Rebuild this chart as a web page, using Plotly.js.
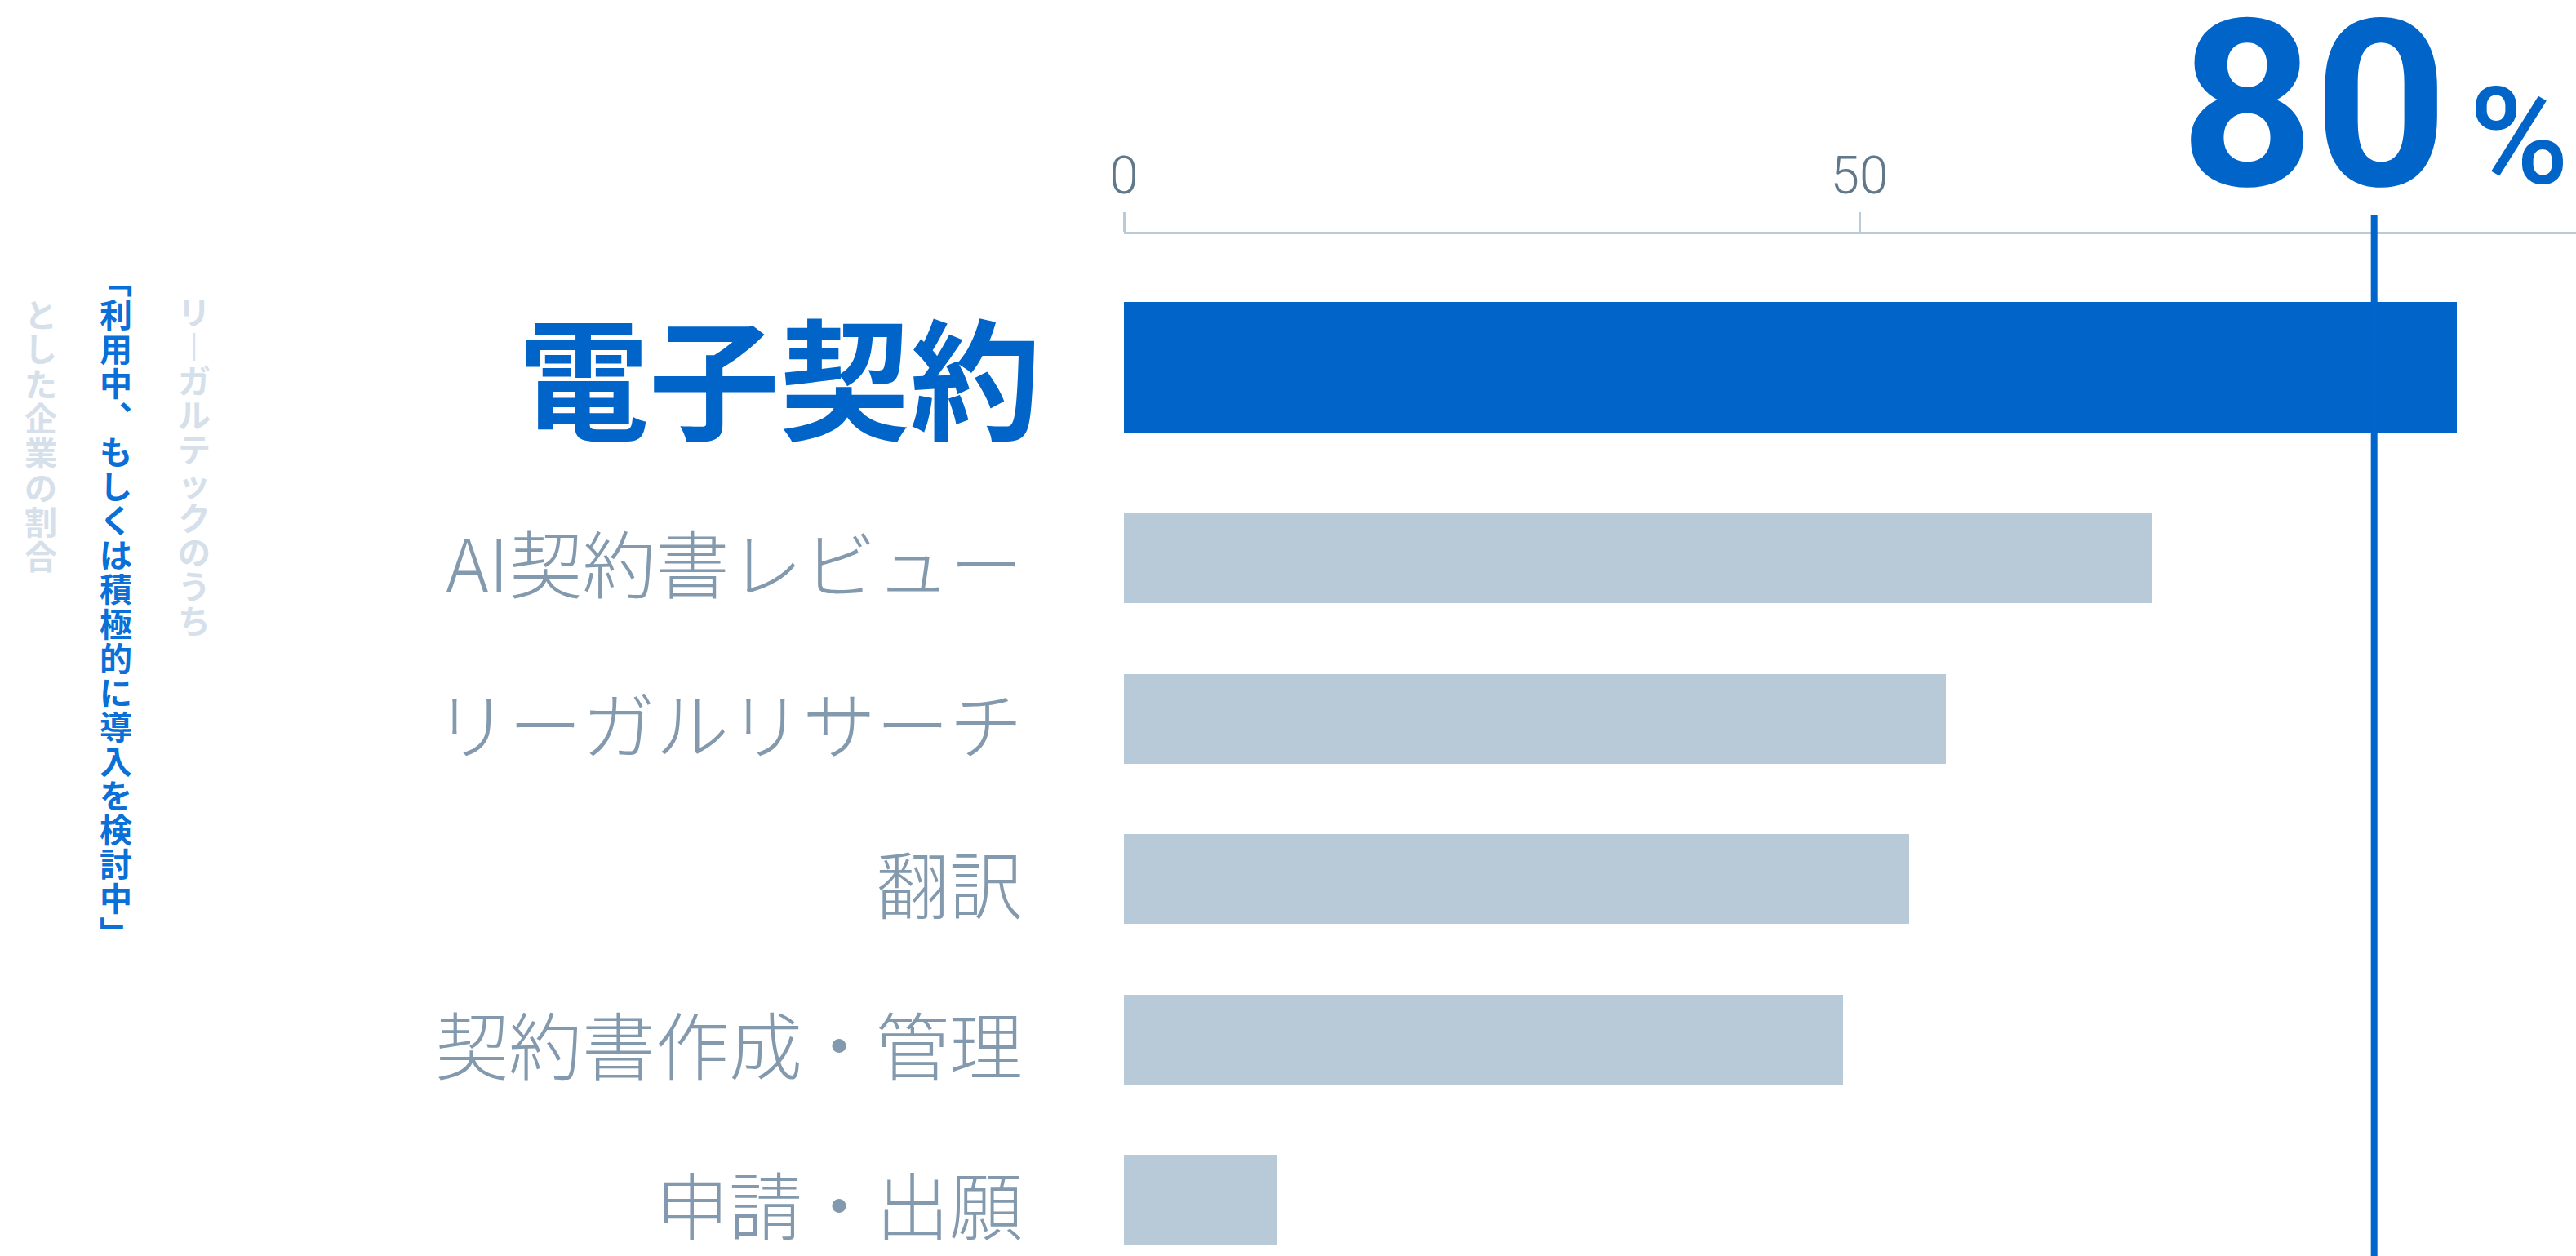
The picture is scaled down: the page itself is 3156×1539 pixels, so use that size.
<!DOCTYPE html>
<html>
<head>
<meta charset="utf-8">
<script src="https://cdn.plot.ly/plotly-3.0.1.min.js"></script>
<style>html,body{margin:0;padding:0;background:#fff;}#chart{width:3156px;height:1539px;}</style>
</head>
<body>
<div id="chart"></div>
<script>
// ---- data ----
const categories = ['電子契約', 'AI契約書レビュー', 'リーガルリサーチ', '翻訳', '契約書作成・管理', '申請・出願'];
const values = [90.6, 69.9, 55.9, 53.4, 48.9, 10.4];
const markerValue = 85;
const headlineNumber = '80';
const headlineUnit = '%';
const xTickVals = [0, 50];
const xTickText = ['0', '50'];
const sideLine1 = 'リーガルテックのうち';
const sideLine2 = '「利用中、もしくは積極的に導入を検討中」';
const sideLine3 = 'とした企業の割合';

// ---- layout geometry ----
const W = 3156, H = 1539;
const M = {l: 1377, r: 0, t: 287, b: 0};
const PW = W - M.l - M.r, PH = H - M.t - M.b;
const pxX = x => (x - M.l) / PW;
const pxY = y => 1 - (y - M.t) / PH;

const BLUE = '#0064c8';
const GRAY_BAR = '#b8c9d7';
const LABEL = '#8399ad';
const AXIS = '#b9cad8';

// per-bar styling (first bar highlighted)
const barColors = categories.map((c, i) => i === 0 ? BLUE : GRAY_BAR);
const barWidths = categories.map((c, i) => i === 0 ? 0.814 : 0.56);
const barOffsets = categories.map((c, i) => i === 0 ? -0.598 : -0.28);

const trace = {
  type: 'bar',
  orientation: 'h',
  y: categories,
  x: values,
  width: barWidths,
  offset: barOffsets,
  marker: {color: barColors, line: {width: 0}},
  hoverinfo: 'none'
};

const annotations = [];
// category labels
categories.forEach((c, i) => {
  const hi = i === 0;
  annotations.push({
    xref: 'x', yref: 'y', x: 0, y: c,
    xanchor: 'right', yanchor: 'middle',
    xshift: hi ? -100 : -122,
    yshift: hi ? 31 : -3,
    text: c, showarrow: false,
    font: {family: 'Noto Sans CJK JP', size: hi ? 160 : 90, color: hi ? BLUE : LABEL, weight: hi ? 700 : 300}
  });
});

// headline
annotations.push({
  xref: 'paper', yref: 'paper', x: pxX(2835), y: pxY(130),
  xanchor: 'center', yanchor: 'middle', showarrow: false,
  text: headlineNumber,
  font: {family: 'Roboto', size: 286, color: BLUE, weight: 700}
});
annotations.push({
  xref: 'paper', yref: 'paper', x: pxX(3086), y: pxY(168),
  xanchor: 'center', yanchor: 'middle', showarrow: false,
  text: headlineUnit,
  font: {family: 'Roboto', size: 166, color: BLUE, weight: 500}
});

// vertical side texts: one annotation per column, characters stacked
const vertForms = {'ー': '︱', '、': '︑', '「': '﹁', '」': '﹂'};
function addVertical(str, cx, firstCy, pitch, glyphSize, color) {
  const chars = Array.from(str);
  const body = chars.map(ch => '<span style="font-size:' + glyphSize + 'px">' + (vertForms[ch] || ch) + '</span>').join('<br>');
  const midY = firstCy + (chars.length - 1) * pitch / 2 - 2;
  annotations.push({
    xref: 'paper', yref: 'paper', x: pxX(cx), y: pxY(midY),
    xanchor: 'center', yanchor: 'middle', showarrow: false, align: 'center',
    text: body,
    font: {family: 'Noto Sans CJK JP', size: pitch / 1.3, color: color, weight: 700}
  });
}
addVertical(sideLine1, 238, 383, 42, 40, '#d5e0eb');
addVertical(sideLine2, 142, 344, 42.05, 40, '#0a6fd6');
addVertical(sideLine3, 50, 386, 42.3, 40, '#d5e0eb');

const layout = {
  width: W, height: H,
  margin: M,
  paper_bgcolor: '#ffffff', plot_bgcolor: '#ffffff',
  showlegend: false,
  bargap: 0,
  xaxis: {
    side: 'top',
    range: [0, PW / 18.02],
    tickvals: xTickVals, ticktext: xTickText,
    ticks: 'outside', ticklen: 24, tickwidth: 3, tickcolor: AXIS,
    showline: true, linecolor: AXIS, linewidth: 3,
    showgrid: false, zeroline: false,
    tickfont: {family: 'Roboto', size: 64, color: '#607889', weight: 300},
    ticklabelstandoff: -3,
    fixedrange: true
  },
  yaxis: {
    type: 'category',
    range: [5.351, -1.0204],
    showticklabels: false, showline: false, showgrid: false, zeroline: false, ticks: '',
    fixedrange: true
  },
  shapes: [{
    type: 'line', xref: 'x', yref: 'paper',
    x0: markerValue, x1: markerValue, y0: 0, y1: pxY(263),
    line: {color: '#0066cc', width: 8}, layer: 'above'
  }],
  annotations: annotations
};

Plotly.newPlot('chart', [trace], layout, {displayModeBar: false, staticPlot: true});
</script>
</body>
</html>
